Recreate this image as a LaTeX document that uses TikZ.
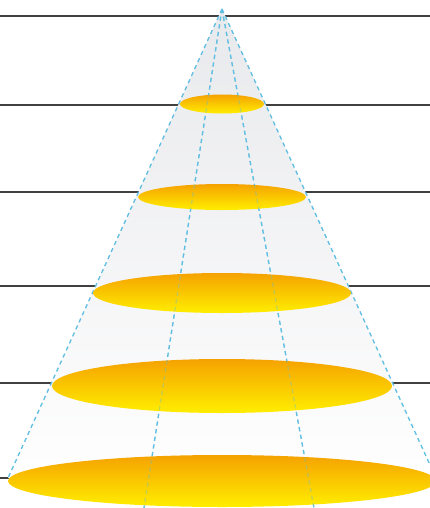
\documentclass[tikz,border=0pt]{standalone}
\usetikzlibrary{calc}
\definecolor{conegray}{RGB}{232,233,236}
\definecolor{dashblue}{RGB}{95,190,225}
\definecolor{discorange}{RGB}{245,162,0}
\definecolor{discmid}{RGB}{251,205,0}
\definecolor{discyellow}{RGB}{255,238,0}
\tikzset{
  level/.style={black!75, line width=0.8pt},
  coneedge/.style={dashblue, line width=0.75pt, dash pattern=on 2.4pt off 2pt},
  disc/.style={top color=discorange, middle color=discmid, bottom color=discyellow},
}
\begin{document}
\begin{tikzpicture}[x=0.02cm, y=-0.02cm]
    \useasboundingbox (0,0) rectangle (430,508);
    \coordinate (apex) at (222,9);
    \coordinate (bl) at (8,478);
    \coordinate (br) at (436,478);
    \coordinate (il) at (144,508);
    \coordinate (ir) at (314,508);

    % horizontal levels
    \foreach \y in {16,105,192,286,383,478}
      \draw[level] (0,\y) -- (430,\y);

    % cone body
    \shade[top color=conegray, bottom color=white!97!conegray] (apex) -- (bl) -- (br) -- cycle;
    \draw[coneedge] (apex) -- (bl);
    \draw[coneedge] (apex) -- (br);
    \draw[coneedge] (apex) -- (il);
    \draw[coneedge] (apex) -- (ir);

    % cross sections
    \foreach \cy/\rx/\ry in {104/42/9.5, 197/84/13, 293/129/20, 386/170/27, 481/214/26}
      \shade[disc] (222,\cy) ellipse [x radius=\rx, y radius=\ry];

    \draw[coneedge, opacity=0.35] (apex) -- (il);
    \draw[coneedge, opacity=0.35] (apex) -- (ir);
\end{tikzpicture}
\end{document}
